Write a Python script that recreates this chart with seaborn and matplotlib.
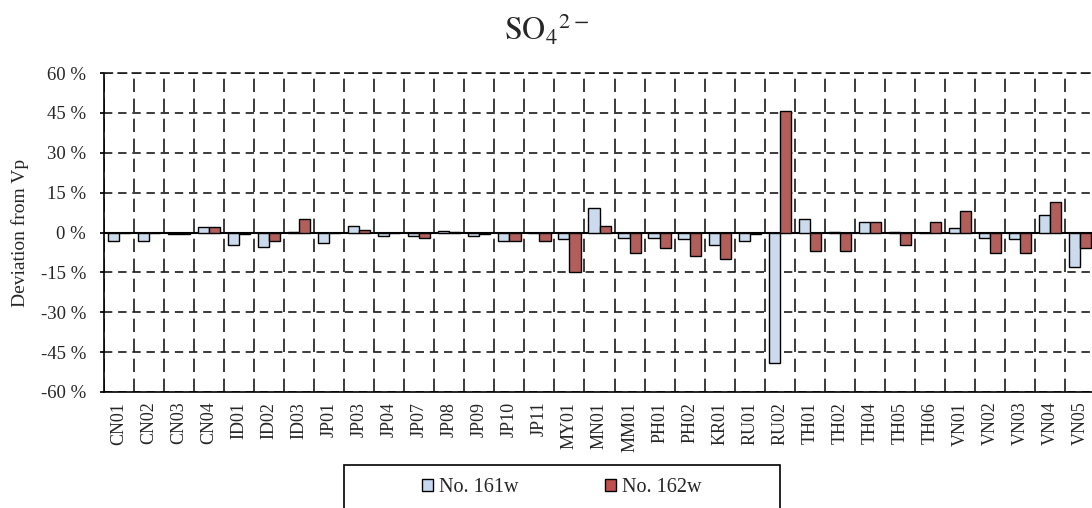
import numpy as np
import pandas as pd
import matplotlib
matplotlib.use("Agg")
import matplotlib.pyplot as plt
import seaborn as sns
from matplotlib.patches import Patch, Rectangle

# Sampling stations and deviation from the prepared value (%)
stations = ["CN01", "CN02", "CN03", "CN04", "ID01", "ID02", "ID03", "JP01", "JP03",
            "JP04", "JP07", "JP08", "JP09", "JP10", "JP11", "MY01", "MN01", "MM01",
            "PH01", "PH02", "KR01", "RU01", "RU02", "TH01", "TH02", "TH04", "TH05",
            "TH06", "VN01", "VN02", "VN03", "VN04", "VN05"]
dev_161w = [-3.1, -3.1, -0.5, 2.1, -4.8, -5.4, 0.3, -3.8, 2.3, -1.5, -1.4, 0.5, -1.2,
            -3.1, 0.0, -2.5, 9.1, -1.9, -1.9, -2.5, -4.8, -3.1, -49.1, 5.0, 0.3, 4.0,
            0.3, 0.0, 1.6, -1.9, -2.5, 6.4, -12.9]
dev_162w = [0.0, 0.0, -0.5, 2.1, -0.5, -3.1, 5.0, 0.0, 1.0, 0.0, -1.9, 0.3, -0.5,
            -3.1, -3.1, -14.7, 2.3, -7.6, -5.9, -9.0, -10.0, -0.5, 45.7, -7.1, -7.1,
            4.0, -4.8, 4.0, 8.0, -7.6, -7.6, 11.4, -5.9]
series = ["No. 161w", "No. 162w"]
colors = ["#C6D9F1", "#C0504D"]
y_ticks = [-60, -45, -30, -15, 0, 15, 30, 45, 60]

sns.set_theme(style="white")
plt.rcParams["font.family"] = ["Liberation Serif", "DejaVu Serif"]
plt.rcParams["mathtext.fontset"] = "stix"

n = len(stations)
df = pd.DataFrame({
    "station": stations * 2,
    "dev": dev_161w + dev_162w,
    "sample": [series[0]] * n + [series[1]] * n,
})

fig = plt.figure(figsize=(10.92, 5.08), dpi=100)
ax = fig.add_axes([104 / 1092, 1 - 392 / 508, 991 / 1092, 319 / 508])

sns.barplot(data=df, x="station", y="dev", hue="sample", order=stations,
            hue_order=series, palette=colors, width=0.74, edgecolor="black",
            linewidth=1.0, legend=False, ax=ax, zorder=3)

ax.set_xlim(-0.5, n - 0.5)
ax.set_ylim(-60, 60)
ax.set_yticks(y_ticks)
ax.set_yticklabels([f"{v} %" for v in y_ticks], fontsize=13.5)
ax.set_xticks(range(n))
ax.set_xticklabels(stations, rotation=90, fontsize=13)
ax.set_xticks(np.arange(-0.5, n), minor=True)
ax.tick_params(axis="x", which="both", length=0, pad=7)
ax.tick_params(axis="y", which="major", length=3, direction="out", pad=10, color="black",
               left=True)

# dashed grid: horizontal at each tick, vertical at station boundaries
ax.set_axisbelow(True)
ax.grid(True, axis="y", which="major", color="#1a1a1a", linewidth=1.2,
        linestyle=(0, (5, 3.5)))
ax.grid(True, axis="x", which="minor", color="#1a1a1a", linewidth=1.2,
        linestyle=(0, (8, 4)))
ax.grid(False, axis="x", which="major")
ax.axhline(0, color="black", linewidth=1.5, zorder=2.5)

for side in ["left", "bottom"]:
    ax.spines[side].set_color("black")
    ax.spines[side].set_linewidth(1.2)
ax.spines["top"].set_color("#1a1a1a")
ax.spines["top"].set_linestyle((0, (5, 3.5)))
ax.spines["top"].set_linewidth(1.2)
ax.spines["right"].set_visible(False)

ax.set_xlabel("")
ax.set_ylabel("Deviation from Vp", fontsize=14)
ax.yaxis.set_label_coords((29 - 104) / 991, 0.5)

fig.text(0.5, 1 - 30 / 508, r"$\mathrm{SO_4}^{2-}$", ha="center", va="center",
         fontsize=23)

# legend below the chart
handles = [Patch(facecolor=c, edgecolor="black", linewidth=1.0) for c in colors]
fig.legend(handles, series, loc="center", bbox_to_anchor=(562 / 1092, 1 - 488 / 508),
           ncol=2, frameon=False, fontsize=14.5, handlelength=0.55, handleheight=0.55,
           handletextpad=0.3, columnspacing=4.3)
fig.patches.append(Rectangle((344 / 1092, -0.05), (780 - 344) / 1092,
                             1 - 465 / 508 + 0.05, transform=fig.transFigure,
                             fill=False, edgecolor="black", linewidth=1.2))

fig.savefig("out.png", dpi=100)
